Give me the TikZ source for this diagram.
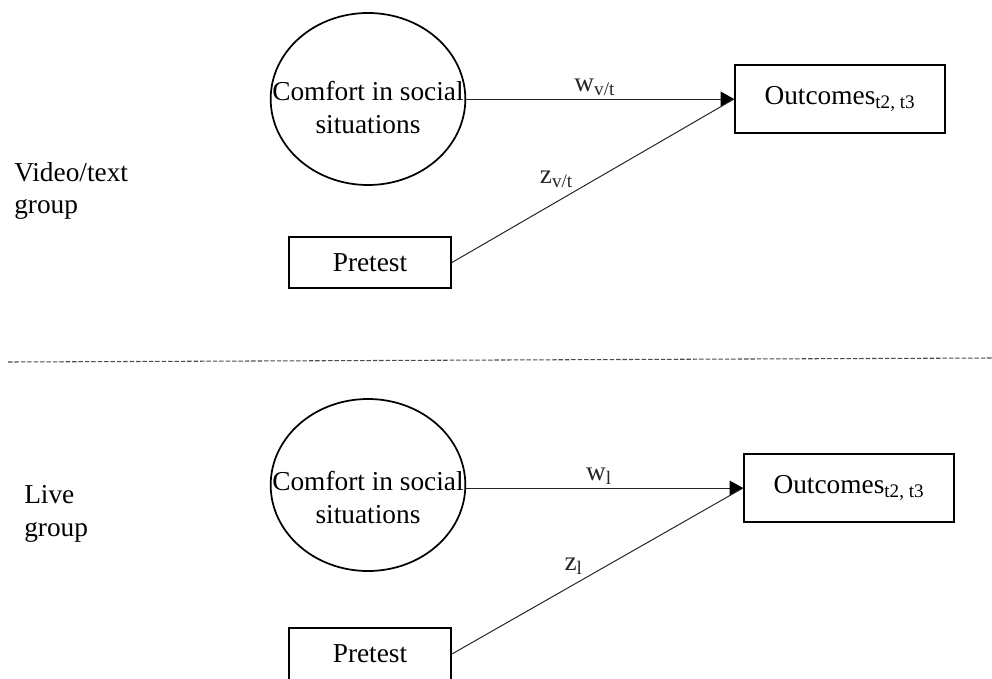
\documentclass[tikz,border=0pt]{standalone}
\usepackage{fontspec}
\setmainfont{Liberation Serif}
\usetikzlibrary{shapes.geometric,arrows.meta}

\begin{document}
\begin{tikzpicture}[x=0.75pt, y=-0.75pt,
	font=\fontsize{20.5}{24.5}\selectfont,
	oval/.style={draw, ellipse, line width=1.3pt, inner sep=0pt, minimum width=146pt, minimum height=129pt},
	box/.style={draw, rectangle, line width=1.4pt, inner sep=0pt},
	prebox/.style={box, minimum width=121.5pt, minimum height=38.5pt},
	outbox/.style={box, minimum width=157.5pt, minimum height=51pt},
	txt/.style={inner sep=0pt, align=center},
	edge/.style={line width=0.75pt, black!85},
	arr/.style={edge, -{Triangle[length=10pt, width=11pt, black]}},
	lbl/.style={inner sep=2pt},
	divider/.style={black!70, line width=0.8pt, dash pattern=on 3.4pt off 1.4pt}]
	\useasboundingbox (0, 0) rectangle (992, 678);

	% video/text group
	\node[txt, anchor=north west, align=left] at (14, 162)  (g1) {Video/text\\group};
	\node[oval]   at (368, 99)    (c1) {};
	\node[txt, anchor=north] at (368, 81)   (t1) {Comfort in social\\situations};
	\node[prebox] at (370, 262.5) (p1) {Pretest};
	\node[outbox] at (840, 99)    (o1) {Outcomes\textsubscript{t2, t3}};

	% draw edges
	\draw[arr]  (c1.east |- o1.west) -- (o1.west) node[lbl, above, pos=0.48] {w\textsubscript{v/t}};
	\draw[edge] (p1.east) -- (o1.west) node[lbl, above left, pos=0.44] {z\textsubscript{v/t}};

	\draw[divider] (8, 362) -- (992, 358);

	% live group
	\node[txt, anchor=north west, align=left] at (24, 485)  (g2) {Live\\group};
	\node[oval]   at (368, 485)  (c2) {};
	\node[txt, anchor=north] at (368, 471)  (t2) {Comfort in social\\situations};
	\node[prebox] at (370, 654)  (p2) {Pretest};
	\node[outbox] at (849, 488)  (o2) {Outcomes\textsubscript{t2, t3}};

	% draw edges
	\draw[arr]  (c2.east |- o2.west) -- (o2.west) node[lbl, above, pos=0.48] {w\textsubscript{l}};
	\draw[edge] (p2.east) -- (o2.west) node[lbl, above left, pos=0.46] {z\textsubscript{l}};

\end{tikzpicture}
\end{document}
